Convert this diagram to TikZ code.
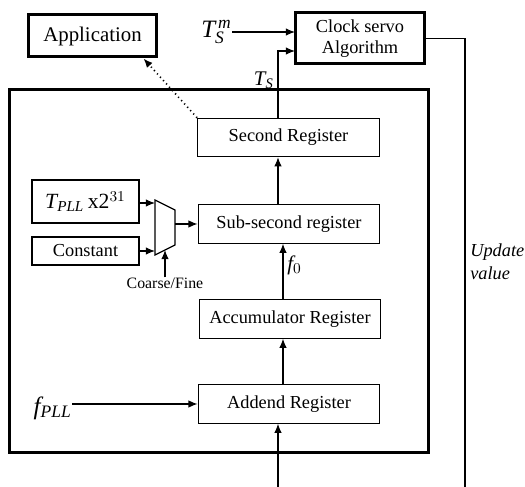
\documentclass[tikz,border=0pt]{standalone}
\usepackage{fontspec}
\setmainfont{Liberation Serif}
\usetikzlibrary{arrows.meta}

\tikzset{
  reg/.style={draw, line width=0.7pt, inner sep=0pt, minimum width=109pt, minimum height=23pt,
    font=\fontsize{11}{13}\selectfont},
  boldbox/.style={reg, line width=1.8pt},
  arr/.style={-{Latex[length=5.5pt,width=4.5pt]}, line width=0.7pt},
  lbl/.style={inner sep=0pt},
}

\begin{document}
\begin{tikzpicture}[x=0.6pt,y=-0.6pt]
    \useasboundingbox (0,0) rectangle (525,487);

    % time stamp unit frame
    \draw[line width=1.8pt] (10,90) rectangle (428,453);

    \node[boldbox, minimum width=77.4pt, minimum height=25.2pt, font=\fontsize{12.5}{14}\selectfont]
        (app) at (92.5,36) {Application};
    \node[boldbox, minimum width=78pt, minimum height=30.6pt, align=center]
        (servo) at (360,38.5) {Clock servo\\Algorithm};

    \node[reg] (second) at (288.5,137.5) {Second Register};
    \node[reg] (sub) at (289,224) {Sub-second register};
    \node[reg] (acc) at (290,319) {Accumulator Register};
    \node[reg] (addend) at (289,404) {Addend Register};

    \node[reg, minimum width=64.2pt, minimum height=25.8pt, font=\fontsize{13}{15}\selectfont]
        (tpll) at (85.5,201.5) {$\mathit{T}_{\mathit{PLL}}$\,x2$^{31}$};
    \node[reg, minimum width=64.2pt, minimum height=16.8pt] (const) at (85.5,251) {Constant};

    % multiplexer
    \draw[line width=0.7pt] (155,200) -- (175,210) -- (175,245) -- (155,255) -- cycle;
    \coordinate (m1) at (155,203);
    \coordinate (m2) at (155,251);
    \coordinate (mout) at (175,224);
    \coordinate (msel) at (165,250);

    \coordinate (col) at (278,0);
    \coordinate (col2) at (283,0);
    \coordinate (servo in1) at (295,32);
    \coordinate (servo in2) at (295,51);
    \coordinate (bot) at (278,487);
    \coordinate (fb end) at (465,487);

    \node[lbl, font=\fontsize{15}{17}\selectfont, anchor=east] (tsm) at (232,32)
        {$\mathit{T}_{\mathit{S}}^{\,\mathit{m}}$};
    \node[lbl, font=\fontsize{12.5}{14}\selectfont, anchor=east] (ts) at (274,80) {$\mathit{T}_{\mathit{S}}$};
    \node[lbl, font=\fontsize{12.5}{14}\selectfont, anchor=west] (f0) at (287,265) {$\mathit{f}_0$};
    \node[lbl, font=\fontsize{15}{17}\selectfont, anchor=east] (fpll) at (72,408) {$\mathit{f}_{\mathit{PLL}}$};
    \node[lbl, font=\fontsize{9.5}{11}\selectfont] (cf) at (165,283) {Coarse/Fine};
    \node[lbl, font=\fontsize{11}{14}\itshape, align=left, anchor=west] (upd) at (470,262) {Update\\value};

    \draw[arr] (tsm.east |- servo in1) -- (servo in1);
    \draw[arr] (second.north -| col) |- (servo in2);
    \draw[arr, dotted, line width=1pt] (second.north west) -- ([xshift=-9pt]app.south east);
    \draw[arr] (sub.north -| col) -- (second.south -| col);
    \draw[arr] (acc.north -| col2) -- (sub.south -| col2);
    \draw[arr] (addend.north -| col2) -- (acc.south -| col2);
    \draw[arr] (bot) -- (addend.south -| bot);
    \draw[arr] (fpll.east |- addend.west) -- (addend.west);

    \draw[arr] (tpll.east |- m1) -- (m1);
    \draw[arr] (const.east |- m2) -- (m2);
    \draw[arr] (mout) -- (sub.west |- mout);
    \draw[arr] (cf.north) -- (msel);

    % update path back to the addend
    \draw[line width=0.7pt] (servo.east) -| (fb end);
\end{tikzpicture}
\end{document}
